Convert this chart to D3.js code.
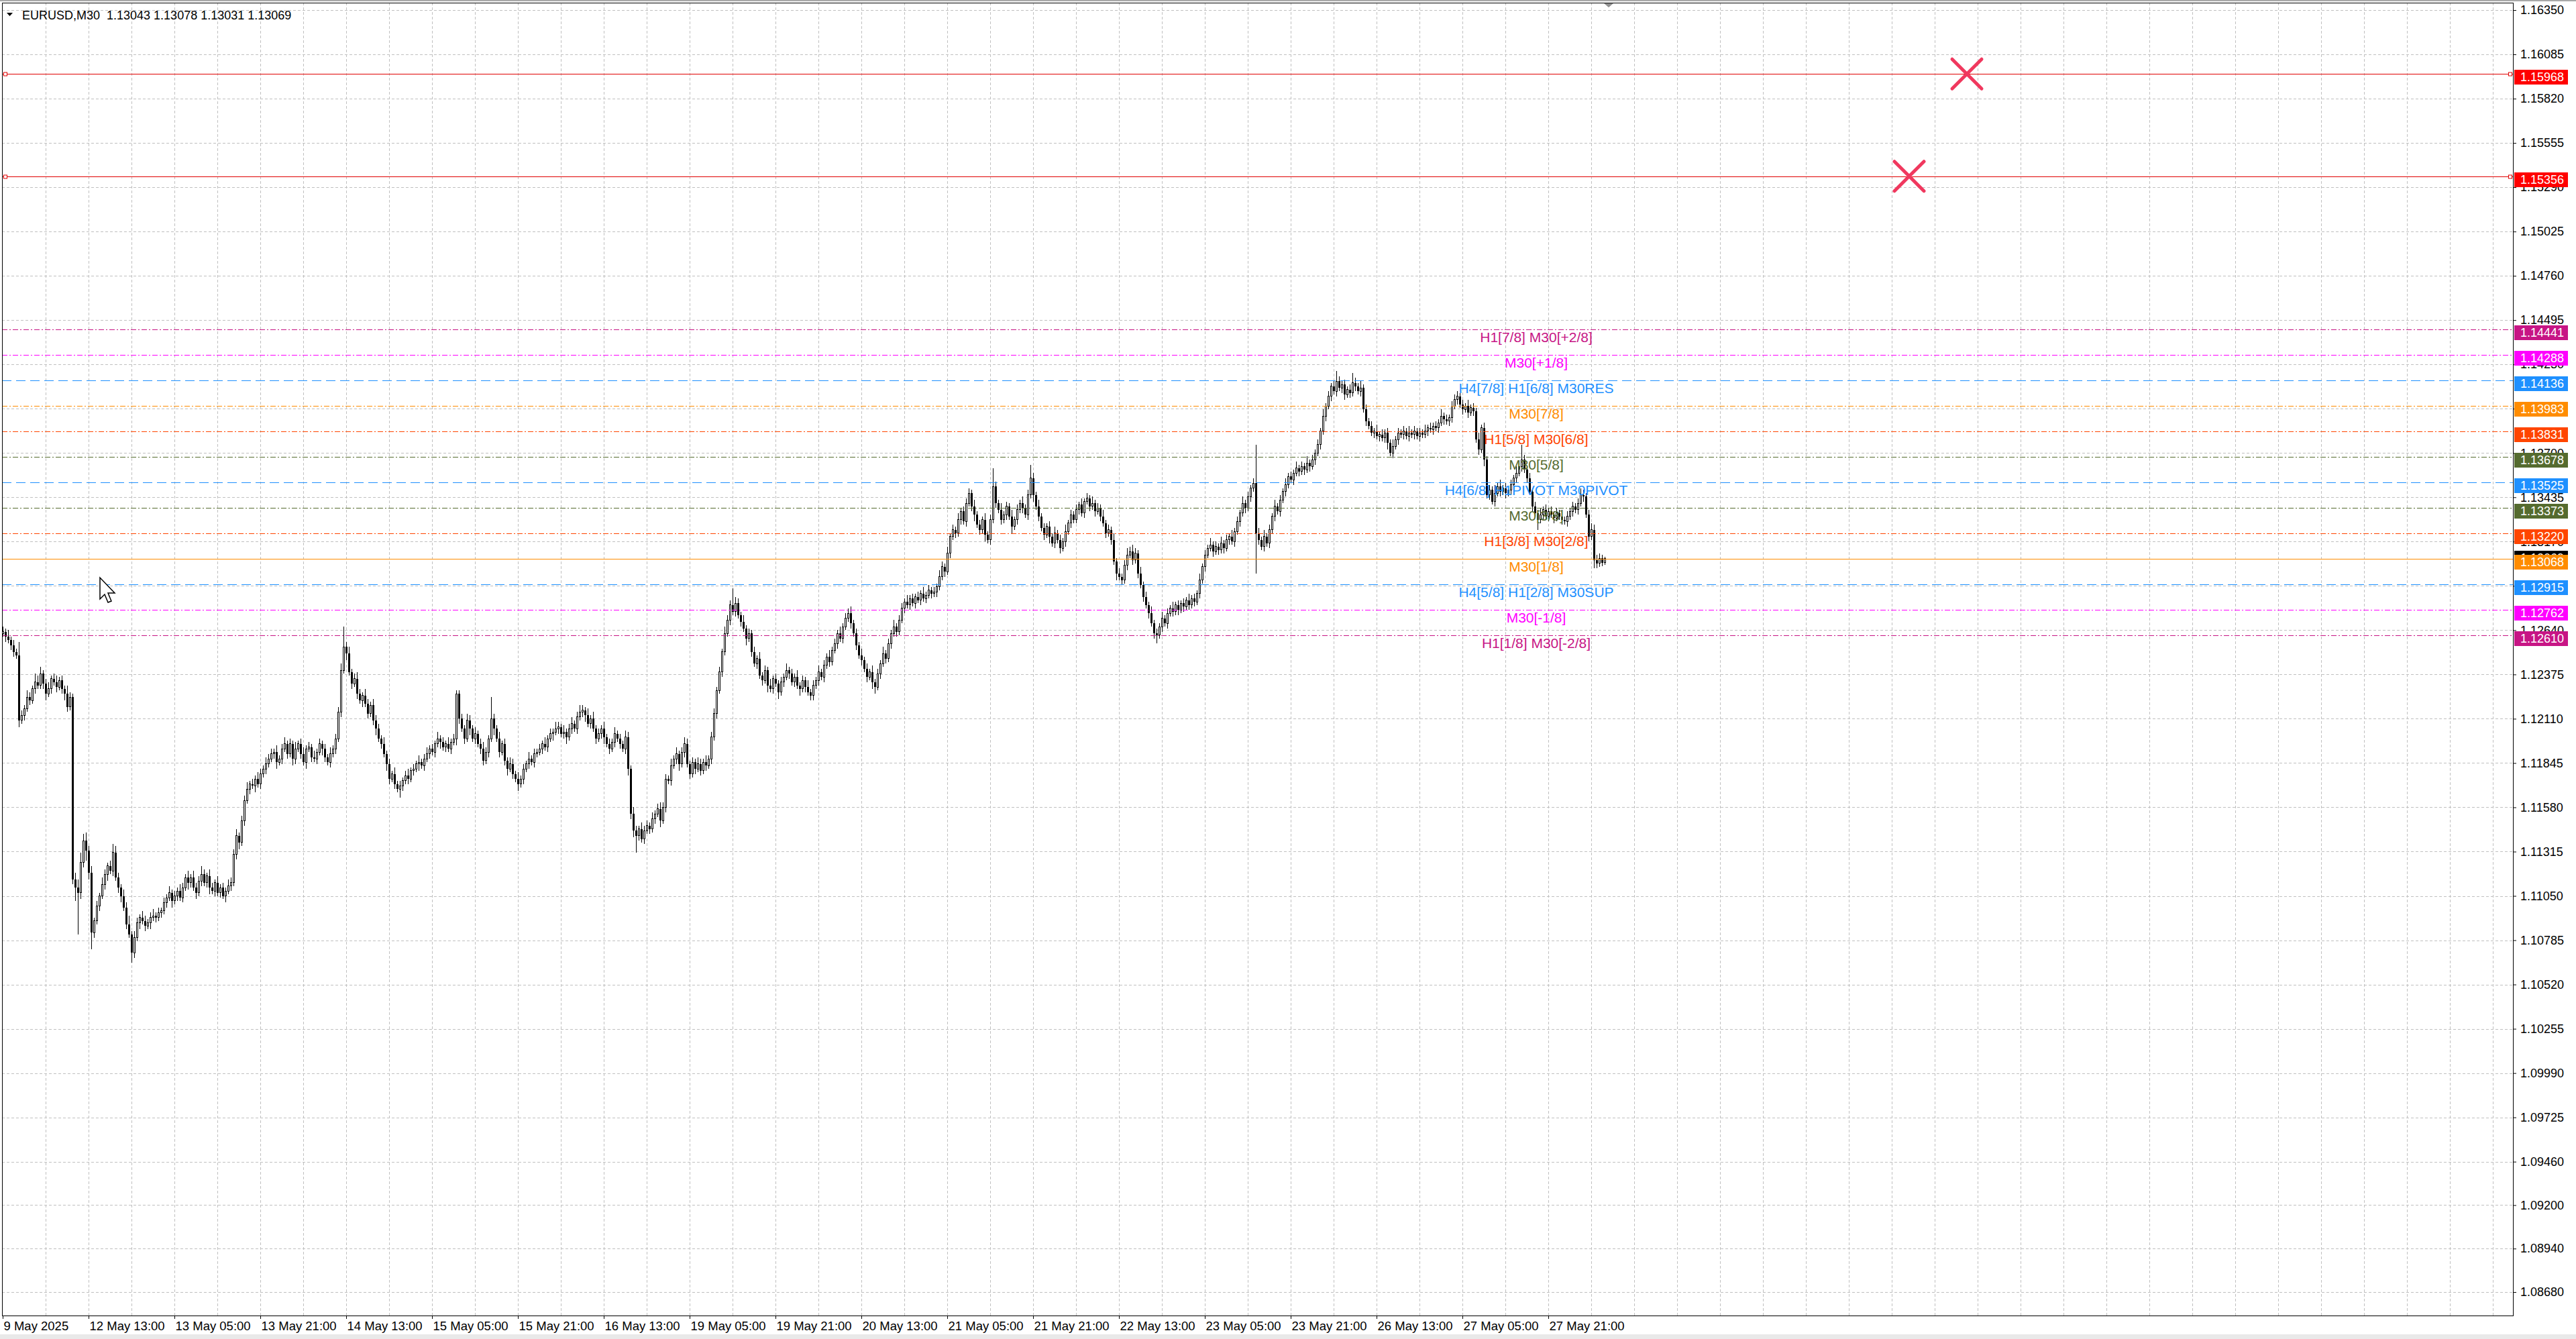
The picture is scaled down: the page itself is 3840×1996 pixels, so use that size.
<!DOCTYPE html>
<html>
<head>
<meta charset="utf-8">
<script src="https://cdn.jsdelivr.net/npm/d3@7"></script>
<style>
html, body { margin: 0; padding: 0; background: #fff; overflow: hidden; }
svg { display: block; font-family: "Liberation Sans", Arial, sans-serif; }
</style>
</head>
<body>
<svg id="chart" width="3840" height="1996"></svg>
<script>
var header = "EURUSD,M30  1.13043 1.13078 1.13031 1.13069";

// M30 bars, oldest first. open of a bar = close of the previous one
var firstOpen = 1.1262;
var closes = [
    1.1263,1.1260,1.1258,1.1255,1.1251,1.1249,1.1210,1.1213,1.1217,1.1224,
    1.1222,1.1229,1.1233,1.1231,1.1238,1.1232,1.1226,1.1229,1.1235,1.1233,
    1.1230,1.1234,1.1229,1.1226,1.1218,1.1224,1.1115,1.1110,1.1107,1.1125,
    1.1138,1.1132,1.1119,1.1083,1.1090,1.1099,1.1105,1.1112,1.1118,1.1123,
    1.1120,1.1131,1.1116,1.1110,1.1105,1.1098,1.1088,1.1082,1.1071,1.1080,
    1.1089,1.1092,1.1090,1.1087,1.1089,1.1092,1.1093,1.1092,1.1095,1.1096,
    1.1101,1.1104,1.1107,1.1102,1.1105,1.1108,1.1104,1.1110,1.1116,1.1113,
    1.1116,1.1110,1.1107,1.1114,1.1118,1.1113,1.1117,1.1110,1.1108,1.1113,
    1.1107,1.1110,1.1105,1.1108,1.1111,1.1113,1.1130,1.1141,1.1137,1.1150,
    1.1162,1.1169,1.1172,1.1171,1.1175,1.1172,1.1178,1.1181,1.1184,1.1187,
    1.1190,1.1191,1.1185,1.1187,1.1193,1.1196,1.1190,1.1196,1.1187,1.1193,
    1.1196,1.1190,1.1185,1.1193,1.1194,1.1188,1.1187,1.1191,1.1196,1.1193,
    1.1188,1.1185,1.1190,1.1193,1.1199,1.1215,1.1240,1.1254,1.1250,1.1239,
    1.1232,1.1235,1.1226,1.1222,1.1225,1.1220,1.1214,1.1219,1.1210,1.1205,
    1.1199,1.1196,1.1190,1.1184,1.1175,1.1178,1.1172,1.1169,1.1171,1.1174,
    1.1177,1.1175,1.1180,1.1181,1.1184,1.1185,1.1183,1.1187,1.1190,1.1193,
    1.1191,1.1196,1.1199,1.1197,1.1194,1.1196,1.1193,1.1197,1.1199,1.1226,
    1.1211,1.1205,1.1199,1.1210,1.1205,1.1199,1.1202,1.1196,1.1193,1.1186,
    1.1191,1.1199,1.1211,1.1205,1.1199,1.1191,1.1196,1.1186,1.1181,1.1184,
    1.1178,1.1175,1.1172,1.1175,1.1181,1.1184,1.1187,1.1185,1.1190,1.1191,
    1.1193,1.1196,1.1194,1.1199,1.1202,1.1203,1.1205,1.1206,1.1202,1.1203,
    1.1200,1.1205,1.1208,1.1205,1.1212,1.1215,1.1216,1.1213,1.1208,1.1211,
    1.1205,1.1199,1.1202,1.1205,1.1200,1.1196,1.1193,1.1197,1.1202,1.1199,
    1.1196,1.1193,1.1200,1.1181,1.1154,1.1144,1.1141,1.1145,1.1139,1.1144,
    1.1147,1.1145,1.1151,1.1154,1.1157,1.1150,1.1158,1.1175,1.1174,1.1183,
    1.1187,1.1190,1.1184,1.1191,1.1196,1.1184,1.1178,1.1185,1.1181,1.1184,
    1.1180,1.1185,1.1183,1.1187,1.1200,1.1214,1.1228,1.1239,1.1251,1.1262,
    1.1270,1.1279,1.1275,1.1280,1.1273,1.1269,1.1265,1.1259,1.1262,1.1251,
    1.1244,1.1247,1.1237,1.1234,1.1240,1.1231,1.1229,1.1235,1.1232,1.1227,
    1.1233,1.1236,1.1240,1.1238,1.1233,1.1236,1.1231,1.1229,1.1234,1.1230,
    1.1227,1.1225,1.1231,1.1234,1.1239,1.1236,1.1243,1.1248,1.1245,1.1252,
    1.1256,1.1262,1.1259,1.1266,1.1271,1.1274,1.1268,1.1262,1.1255,1.1249,
    1.1246,1.1241,1.1236,1.1239,1.1233,1.1230,1.1238,1.1244,1.1250,1.1247,
    1.1256,1.1262,1.1266,1.1263,1.1270,1.1277,1.1281,1.1279,1.1283,1.1280,
    1.1284,1.1282,1.1286,1.1283,1.1285,1.1288,1.1286,1.1287,1.1290,1.1296,
    1.1302,1.1299,1.1310,1.1320,1.1324,1.1322,1.1330,1.1335,1.1329,1.1340,
    1.1346,1.1338,1.1333,1.1327,1.1324,1.1330,1.1321,1.1318,1.1330,1.1350,
    1.1340,1.1336,1.1330,1.1333,1.1338,1.1332,1.1326,1.1330,1.1336,1.1340,
    1.1337,1.1333,1.1345,1.1355,1.1345,1.1338,1.1332,1.1325,1.1321,1.1326,
    1.1320,1.1316,1.1322,1.1318,1.1313,1.1317,1.1323,1.1328,1.1333,1.1330,
    1.1336,1.1339,1.1334,1.1341,1.1343,1.1338,1.1340,1.1335,1.1337,1.1332,
    1.1328,1.1322,1.1324,1.1318,1.1305,1.1298,1.1296,1.1294,1.1303,1.1309,
    1.1311,1.1306,1.1310,1.1298,1.1291,1.1284,1.1279,1.1274,1.1268,1.1262,
    1.1261,1.1266,1.1271,1.1268,1.1274,1.1277,1.1275,1.1279,1.1276,1.1280,
    1.1278,1.1282,1.1279,1.1283,1.1281,1.1286,1.1294,1.1302,1.1309,1.1313,
    1.1315,1.1311,1.1314,1.1312,1.1316,1.1313,1.1318,1.1320,1.1317,1.1323,
    1.1329,1.1334,1.1340,1.1337,1.1344,1.1349,1.1352,1.1322,1.1318,1.1314,
    1.1320,1.1316,1.1324,1.1332,1.1338,1.1335,1.1342,1.1347,1.1351,1.1356,
    1.1354,1.1358,1.1361,1.1359,1.1362,1.1360,1.1364,1.1362,1.1366,1.1370,
    1.1375,1.1383,1.1392,1.1398,1.1404,1.1410,1.1407,1.1413,1.1409,1.1411,
    1.1405,1.1408,1.1406,1.1412,1.1410,1.1407,1.1409,1.1396,1.1389,1.1386,
    1.1382,1.1383,1.1380,1.1381,1.1379,1.1382,1.1376,1.1370,1.1374,1.1378,
    1.1382,1.1381,1.1383,1.1380,1.1382,1.1381,1.1383,1.1380,1.1382,1.1381,
    1.1383,1.1385,1.1384,1.1386,1.1385,1.1388,1.1392,1.1390,1.1389,1.1391,
    1.1398,1.1402,1.1404,1.1399,1.1396,1.1398,1.1394,1.1397,1.1395,1.1378,
    1.1372,1.1385,1.1366,1.1345,1.1348,1.1341,1.1346,1.1350,1.1347,1.1349,
    1.1346,1.1348,1.1351,1.1355,1.1358,1.1362,1.1366,1.1360,1.1355,1.1347,
    1.1338,1.1334,1.1330,1.1333,1.1336,1.1332,1.1335,1.1333,1.1331,1.1334,
    1.1332,1.1330,1.1329,1.1332,1.1335,1.1338,1.1336,1.1340,1.1345,1.1344,
    1.1333,1.1320,1.1324,1.1306,1.1304,1.1307,1.13043,1.13069
];
// wick above / below the body, in pips
var wickHi = [
    3,2,4,2,3,2,8,3,2,4, 3,2,5,4,4,2,3,4,2,3, 4,2,3,2,5,3,2,4,5,6, 4,5,3,4,2,3,2,4,3,2,
    3,5,4,3,2,4,3,5,2,4, 3,2,4,3,2,3,4,2,3,2, 3,2,4,2,3,2,4,3,2,4, 2,4,3,3,5,3,2,4,3,2,
    4,2,3,2,4,3,3,4,2,3, 3,4,2,3,2,4,3,2,4,3, 3,2,4,2,3,4,2,3,2,4, 2,3,4,2,3,2,4,2,3,2,
    3,2,4,2,3,3,4,12,3,4, 2,3,4,3,2,4,3,2,4,3, 3,2,4,2,3,2,4,2,3,2, 3,4,2,3,2,4,2,3,4,2,
    3,2,4,2,3,2,4,2,3,2, 2,3,2,4,3,2,4,2,3,4, 3,2,13,3,2,4,2,3,2,4, 3,2,4,2,3,2,4,2,3,2,
    3,2,4,2,3,2,4,3,2,4, 2,3,4,2,3,4,3,2,4,2, 4,2,3,2,4,2,3,2,4,2, 3,2,4,3,2,4,3,2,4,3,
    3,2,4,2,3,4,3,3,2,4, 2,4,2,3,4,3,2,3,2,4, 3,2,4,2,3,3,2,3,2,4, 3,3,10,4,3,2,4,2,3,2,
    3,2,4,2,3,2,4,2,3,2, 3,2,4,2,3,2,4,2,3,2, 4,2,3,2,4,2,3,2,4,2, 3,2,4,2,3,3,4,2,3,2,
    4,2,3,2,4,2,3,2,4,2, 3,2,4,2,3,3,2,4,2,3, 2,3,2,4,2,3,2,3,2,4, 3,2,4,2,3,2,4,2,3,3,
    3,2,4,2,3,2,4,2,3,11, 3,2,4,2,3,2,4,2,3,2, 4,2,3,8,3,2,4,2,3,2, 3,2,4,2,3,2,4,2,3,2,
    3,2,4,2,3,2,4,2,3,2, 4,2,3,2,4,2,3,2,3,4, 3,4,3,2,4,2,3,2,4,2, 3,2,4,2,3,2,4,2,3,2,
    3,2,4,2,3,2,4,2,3,2, 4,2,3,2,4,2,3,2,4,2, 3,2,4,2,3,2,3,23,3,2, 4,2,3,2,4,2,3,2,4,2,
    3,2,4,2,3,2,4,2,3,2, 3,2,4,2,3,2,3,6,3,2, 3,2,3,6,3,2,4,2,3,2, 3,2,4,2,3,2,3,2,4,2,
    3,2,3,2,4,2,3,2,3,2, 4,2,3,2,3,2,4,2,3,2, 3,3,3,2,3,2,4,2,3,2, 4,2,3,2,3,2,5,2,4,2,
    3,2,3,2,4,2,9,3,2,3, 2,3,2,4,2,3,2,3,2,3, 2,4,2,3,2,3,2,3,4,3, 2,3,4,3,3,3,2,0.9
];
var wickLo = [
    2,3,2,3,3,2,4,2,3,2, 3,2,3,2,2,3,4,2,3,2, 3,2,3,4,3,2,3,8,25,4, 3,6,4,10,3,2,3,2,3,4,
    2,3,2,3,4,2,3,2,6,3, 2,4,2,3,2,4,2,3,2,3, 2,3,2,4,2,3,2,3,2,4, 3,2,4,2,3,2,3,4,2,3,
    2,3,2,4,2,3,2,3,4,2, 3,2,3,2,4,2,3,2,3,2, 2,3,4,2,3,2,3,2,4,3, 2,3,2,4,2,3,2,3,2,4,
    3,2,3,2,3,2,3,2,4,2, 3,2,3,2,4,2,3,2,3,4, 2,3,2,4,3,2,3,2,5,3, 2,3,2,3,2,4,2,3,2,3,
    2,3,2,4,2,3,2,3,2,4, 3,2,3,2,4,2,3,2,3,3, 2,3,2,4,2,3,2,3,4,2, 3,2,4,2,3,2,3,2,3,2,
    2,3,2,3,2,4,2,3,2,3, 4,2,3,2,3,2,3,4,2,3, 2,3,2,3,4,2,3,2,3,2, 3,2,3,4,3,4,10,3,2,3,
    2,3,2,3,2,4,2,3,2,3, 2,3,4,2,3,2,3,2,3,2, 3,2,3,2,3,2,3,2,3,2, 2,3,2,3,2,3,2,4,2,3,
    2,3,2,3,2,4,2,3,2,4, 2,3,2,3,2,3,2,4,2,3, 2,3,3,2,3,2,3,2,3,2, 2,3,2,3,2,2,3,2,3,2,
    3,2,3,2,4,4,2,3,2,3, 2,3,2,3,2,2,3,2,3,2, 3,2,3,2,3,2,3,2,3,2, 2,3,2,3,2,3,2,3,2,3,
    2,3,4,2,3,2,4,2,3,2, 3,2,3,2,3,2,4,2,3,2, 3,2,3,2,4,2,3,2,3,2, 4,2,3,2,3,2,3,2,3,2,
    2,3,2,3,2,3,2,3,2,3, 2,3,2,3,2,4,2,3,2,3, 2,3,2,3,2,3,2,3,2,3, 5,2,3,2,3,2,3,2,3,2,
    3,2,3,2,3,2,3,2,3,2, 2,3,2,3,2,3,2,3,2,3, 2,3,2,3,2,3,2,24,3,2, 3,2,3,2,3,2,3,2,3,2,
    2,3,2,3,2,3,2,3,2,3, 2,3,2,3,2,3,2,3,2,3, 3,2,3,2,3,2,3,2,3,2, 2,3,2,3,2,3,4,2,3,2,
    3,2,3,2,3,2,3,2,3,2, 2,3,2,3,2,3,2,3,2,3, 3,2,3,2,3,2,3,2,3,2, 3,2,4,2,3,2,3,2,3,2,
    3,2,3,2,3,2,3,2,3,2, 3,2,6,2,3,2,3,2,3,2, 2,3,2,3,2,3,2,3,2,3, 2,3,2,5,3,2,2,1.2
];

// one time label every 32 bars, starting at bar 0
var timeLabels = ["9 May 2025", "12 May 13:00", "13 May 05:00", "13 May 21:00", "14 May 13:00",
    "15 May 05:00", "15 May 21:00", "16 May 13:00", "19 May 05:00", "19 May 21:00",
    "20 May 13:00", "21 May 05:00", "21 May 21:00", "22 May 13:00", "23 May 05:00",
    "23 May 21:00", "26 May 13:00", "27 May 05:00", "27 May 21:00"];
var labelStep = 32;

var priceTicks = [1.16350, 1.16085, 1.15820, 1.15555, 1.15290, 1.15025, 1.14760, 1.14495,
    1.14230, 1.13965, 1.13700, 1.13435, 1.13170, 1.12905, 1.12640, 1.12375, 1.12110,
    1.11845, 1.11580, 1.11315, 1.11050, 1.10785, 1.10520, 1.10255, 1.09990, 1.09725,
    1.09460, 1.09200, 1.08940, 1.08680];

// Murrey math levels
var levelPrices = [1.14441, 1.14288, 1.14136, 1.13983, 1.13831, 1.13678, 1.13525,
    1.13373, 1.13220, 1.13068, 1.12915, 1.12762, 1.12610];
var levelNames = ["H1[7/8] M30[+2/8]", "M30[+1/8]", "H4[7/8] H1[6/8] M30RES", "M30[7/8]",
    "H1[5/8] M30[6/8]", "M30[5/8]", "H4[6/8] H1PIVOT M30PIVOT", "M30[3/8]",
    "H1[3/8] M30[2/8]", "M30[1/8]", "H4[5/8] H1[2/8] M30SUP", "M30[-1/8]", "H1[1/8] M30[-2/8]"];
var levelTextBar = 571.5;

var redLines = [1.15968, 1.15356];
var crossBars = [732, 710.5];
var crossPrices = [1.15968, 1.15356];
var bidPrice = 1.13069;

// ---- styles ----
var DD = "8,3,2,3", DL = "14,7";
var levelColor = ["#c71585", "#ff00ff", "#1e90ff", "#ff8c00", "#ff4500", "#556b2f", "#1e90ff",
    "#556b2f", "#ff4500", "#ff8c00", "#1e90ff", "#ff00ff", "#c71585"];
var levelDash = [DD, DD, DL, DD, DD, DD, DL, DD, DD, null, DL, DD, DD];

var plotL = 3, plotT = 4, plotR = 3746, plotB = 1961;

var svg = d3.select("#chart");
var x = d3.scaleLinear().domain([0, 1]).range([4, 8]);
var y = d3.scaleLinear().domain([1.16350, 1.08680]).range([15, 1926]);

svg.append("rect").attr("x", 0).attr("y", 0).attr("width", 3840).attr("height", 2).attr("fill", "#a8a8a8");
svg.append("rect").attr("x", 0).attr("y", 1989).attr("width", 3840).attr("height", 7).attr("fill", "#e9e9e9");

// grid
var grid = svg.append("g").attr("stroke", "#c0c0c0").attr("stroke-dasharray", "4,3")
    .attr("shape-rendering", "crispEdges");
var lastGridBar = Math.floor(x.invert(plotR - 1));
grid.selectAll("line.v").data(d3.range(16, lastGridBar + 1, 16)).enter().append("line")
    .attr("x1", function (d) { return Math.round(x(d)) + 0.5; })
    .attr("x2", function (d) { return Math.round(x(d)) + 0.5; })
    .attr("y1", plotT).attr("y2", plotB);
grid.selectAll("line.h").data(priceTicks).enter().append("line")
    .attr("x1", plotL).attr("x2", plotR)
    .attr("y1", function (d) { return Math.round(y(d)) + 0.5; })
    .attr("y2", function (d) { return Math.round(y(d)) + 0.5; });

// candles
var bars = closes.map(function (c, i) {
    var o = i === 0 ? firstOpen : closes[i - 1];
    return { i: i, o: o, c: c,
        h: Math.max(o, c) + (wickHi[i] || 0) / 10000,
        l: Math.min(o, c) - (wickLo[i] || 0) / 10000 };
});
var cg = svg.append("g").attr("shape-rendering", "crispEdges");
cg.selectAll("line").data(bars).enter().append("line")
    .attr("x1", function (d) { return Math.round(x(d.i)) + 0.5; })
    .attr("x2", function (d) { return Math.round(x(d.i)) + 0.5; })
    .attr("y1", function (d) { return y(d.h); })
    .attr("y2", function (d) { return y(d.l); })
    .attr("stroke", "#000");
cg.selectAll("rect").data(bars).enter().append("rect")
    .attr("x", function (d) { return Math.round(x(d.i)) - (d.c >= d.o ? 0.5 : 1); })
    .attr("width", function (d) { return d.c >= d.o ? 2 : 3; })
    .attr("y", function (d) { return y(Math.max(d.o, d.c)); })
    .attr("height", function (d) { return Math.max(1, Math.abs(y(d.o) - y(d.c))); })
    .attr("fill", function (d) { return d.c > d.o ? "#fff" : "#000"; })
    .attr("stroke", function (d) { return d.c > d.o ? "#000" : "none"; });

// horizontal red lines
var rl = svg.append("g");
rl.selectAll("line").data(redLines).enter().append("line")
    .attr("x1", plotL).attr("x2", plotR)
    .attr("y1", function (d) { return Math.round(y(d)) + 0.5; })
    .attr("y2", function (d) { return Math.round(y(d)) + 0.5; })
    .attr("stroke", "#e00000").attr("shape-rendering", "crispEdges");
redLines.forEach(function (p) {
    [plotL + 5, plotR - 4].forEach(function (sx) {
        rl.append("rect").attr("x", sx - 2.5).attr("y", Math.round(y(p)) - 2)
            .attr("width", 5).attr("height", 5)
            .attr("fill", "#fff").attr("stroke", "#e00000");
    });
});

// murrey levels
var lv = svg.append("g");
lv.selectAll("line").data(levelPrices).enter().append("line")
    .attr("x1", plotL).attr("x2", plotR)
    .attr("y1", function (d) { return Math.round(y(d)) + 0.5; })
    .attr("y2", function (d) { return Math.round(y(d)) + 0.5; })
    .attr("stroke", function (d, i) { return levelColor[i]; })
    .attr("stroke-dasharray", function (d, i) { return levelDash[i]; })
    .attr("shape-rendering", "crispEdges");
lv.selectAll("text").data(levelPrices).enter().append("text")
    .attr("x", x(levelTextBar))
    .attr("y", function (d) { return y(d) + 19; })
    .attr("text-anchor", "middle")
    .attr("font-size", 21)
    .attr("fill", function (d, i) { return levelColor[i]; })
    .text(function (d, i) { return levelNames[i]; });

// cross marks
svg.append("g").selectAll("path").data(crossBars).enter().append("path")
    .attr("transform", function (d, i) { return "translate(" + x(d) + "," + y(crossPrices[i]) + ")"; })
    .attr("d", "M-22,-22L22,22M-22,22L22,-22")
    .attr("stroke", "#f0385e").attr("stroke-width", 5).attr("stroke-linecap", "round")
    .attr("fill", "none");

// frame
svg.append("rect").attr("x", plotL + 0.5).attr("y", plotT + 0.5)
    .attr("width", plotR - plotL).attr("height", plotB - plotT)
    .attr("fill", "none").attr("stroke", "#000").attr("shape-rendering", "crispEdges");

// price axis
var priceAxis = d3.axisRight(y).tickValues(priceTicks).tickFormat(d3.format(".5f"))
    .tickSize(5).tickPadding(6);
var pa = svg.append("g").attr("transform", "translate(" + plotR + ",0)").call(priceAxis);
pa.select(".domain").remove();
pa.attr("font-size", 18).attr("font-family", "Liberation Sans, Arial, sans-serif");

// level price tags
var tags = svg.append("g").attr("font-size", 18);
function tag(p, fill, dyTop) {
    var ty = Math.round(y(p));
    tags.append("rect").attr("x", plotR + 2).attr("y", ty - dyTop).attr("width", 80).attr("height", 22)
        .attr("fill", fill);
    tags.append("text").attr("x", plotR + 11).attr("y", ty - dyTop + 11).attr("dy", "0.35em")
        .attr("fill", "#fff").text(d3.format(".5f")(p));
}
tag(bidPrice, "#000", 11);
redLines.forEach(function (p) { tag(p, "#ff0000", 6); });
levelPrices.forEach(function (p, i) { tag(p, levelColor[i], 6); });

// time axis
var timeAxis = d3.axisBottom(x)
    .tickValues(timeLabels.map(function (t, k) { return k * labelStep; }))
    .tickFormat(function (d, k) { return timeLabels[k]; })
    .tickSize(5).tickPadding(4);
var ta = svg.append("g").attr("transform", "translate(0," + plotB + ")").call(timeAxis);
ta.select(".domain").remove();
ta.attr("font-size", 18.5).attr("font-family", "Liberation Sans, Arial, sans-serif");
ta.selectAll("text").attr("text-anchor", "start").attr("x", 1);

// header
svg.append("path").attr("d", "M10,19L19,19L14.5,24Z").attr("fill", "#000");
svg.append("text").attr("x", 33).attr("y", 29).attr("font-size", 18)
    .attr("xml:space", "preserve").style("white-space", "pre").text(header);

// chart shift marker
svg.append("path").attr("d", "M2391,5L2405,5L2398,11Z").attr("fill", "#909090");

// mouse pointer
svg.append("path").attr("transform", "translate(149,861)")
    .attr("d", "M0,0L0,32L7,25L12,37L17,35L12,23L22,23Z")
    .attr("fill", "#fff").attr("stroke", "#000").attr("stroke-width", 1.5);
</script>
</body>
</html>
